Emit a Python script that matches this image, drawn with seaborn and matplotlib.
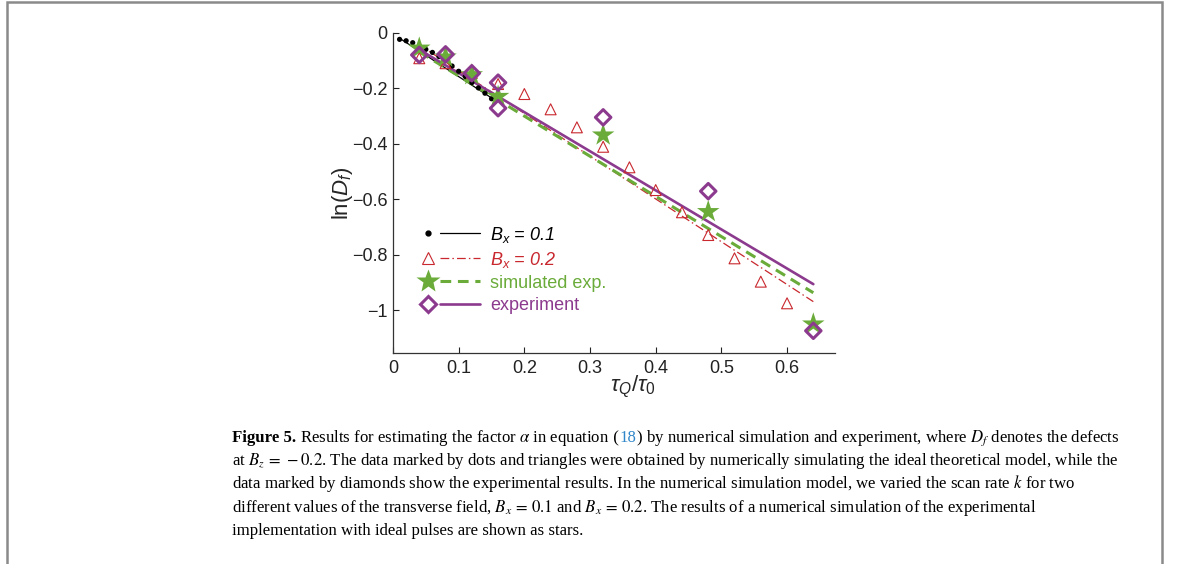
import matplotlib
matplotlib.use("Agg")
import matplotlib.pyplot as plt
import seaborn as sns
import pandas as pd
from matplotlib.lines import Line2D
from matplotlib.legend_handler import HandlerBase
from matplotlib.patches import Rectangle

# ---------------- data ----------------
dots_x = [0.01, 0.02, 0.03, 0.04, 0.05, 0.06, 0.07, 0.08, 0.09, 0.10, 0.11, 0.12, 0.13, 0.14, 0.15]
dots_y = [-0.024, -0.029, -0.036, -0.048, -0.060, -0.071, -0.086, -0.101, -0.120, -0.139,
          -0.158, -0.180, -0.199, -0.218, -0.238]
tri_x = [0.04, 0.08, 0.12, 0.16, 0.20, 0.24, 0.28, 0.32, 0.36, 0.40, 0.44, 0.48, 0.52, 0.56, 0.60]
tri_y = [-0.092, -0.110, -0.145, -0.185, -0.221, -0.276, -0.341, -0.411, -0.485, -0.567,
         -0.647, -0.729, -0.813, -0.897, -0.975]
star_x = [0.04, 0.08, 0.12, 0.16, 0.32, 0.48, 0.64]
star_y = [-0.056, -0.088, -0.152, -0.230, -0.369, -0.645, -1.050]
dia_x = [0.04, 0.08, 0.12, 0.16, 0.16, 0.32, 0.48, 0.64]
dia_y = [-0.080, -0.078, -0.146, -0.180, -0.272, -0.305, -0.571, -1.074]

fit01_x = [0.01, 0.15]
fit01_y = [-0.020, -0.235]
fit02_x = [0.04, 0.64]
fit02_y = [-0.044, -0.969]
fitsim_x = [0.04, 0.64]
fitsim_y = [-0.069, -0.937]
fitexp_x = [0.04, 0.64]
fitexp_y = [-0.061, -0.906]

xticks = [0, 0.1, 0.2, 0.3, 0.4, 0.5, 0.6]
xticklabels = ["0", "0.1", "0.2", "0.3", "0.4", "0.5", "0.6"]
yticks = [-1, -0.8, -0.6, -0.4, -0.2, 0]
yticklabels = ["\u22121", "\u22120.8", "\u22120.6", "\u22120.4", "\u22120.2", "0"]

legend_labels = ["$B_x$ = 0.1", "$B_x$ = 0.2", "simulated exp.", "experiment"]

caption_lines = [
    [("Figure 5.", "bold", "k"),
     (" Results for estimating the factor $\\alpha$ in equation", "normal", "k"),
     (" (", "normal", "k"),
     ("18", "normal", "#2f86c9"),
     (")", "normal", "k"),
     (" by numerical simulation and experiment, where $D_f$ denotes the defects", "normal", "k")],
    [("at $B_z\\,=\\,-0.2$. The data marked by dots and triangles were obtained by numerically simulating the ideal theoretical model, while the", "normal", "k")],
    [("data marked by diamonds show the experimental results. In the numerical simulation model, we varied the scan rate $k$ for two", "normal", "k")],
    [("different values of the transverse field, $B_x\\,=\\,0.1$ and $B_x\\,=\\,0.2$. The results of a numerical simulation of the experimental", "normal", "k")],
    [("implementation with ideal pulses are shown as stars.", "normal", "k")],
]

# ---------------- style ----------------
sns.set_style("ticks")
plt.rcParams['font.family'] = ['Liberation Sans', 'DejaVu Sans']
plt.rcParams['mathtext.fontset'] = 'custom'
plt.rcParams['mathtext.rm'] = 'Liberation Sans'
plt.rcParams['mathtext.it'] = 'Liberation Sans:italic'
plt.rcParams['mathtext.bf'] = 'Liberation Sans:bold'

RED = "#c8282e"
GREEN = "#6aab3a"
PURPLE = "#8c3a8e"

fig = plt.figure(figsize=(11.79, 5.64), dpi=100)
ax = fig.add_axes([393 / 1179, 1 - 352.7 / 564, (835 - 393) / 1179, (352.7 - 32.7) / 564])

# lines
sns.lineplot(x=fit01_x, y=fit01_y, ax=ax, color="k", lw=0.9, zorder=2)
sns.lineplot(x=fit02_x, y=fit02_y, ax=ax, color=RED, lw=0.9, zorder=2, dashes=False)
ax.lines[-1].set_linestyle((0, (7, 2.5, 1.2, 2.5)))
sns.lineplot(x=fitsim_x, y=fitsim_y, ax=ax, color=GREEN, lw=2.2, zorder=3)
ax.lines[-1].set_linestyle((0, (3.5, 2.2)))
sns.lineplot(x=fitexp_x, y=fitexp_y, ax=ax, color=PURPLE, lw=1.9, zorder=4)

# markers
sns.scatterplot(x=dots_x, y=dots_y, ax=ax, color="k", s=14, edgecolor="none", zorder=5)
sns.scatterplot(x=tri_x, y=tri_y, ax=ax, marker="^", s=62, facecolor="none",
                edgecolor=RED, linewidth=0.8, zorder=5)
sns.scatterplot(x=star_x, y=star_y, ax=ax, marker="*", s=290, color=GREEN,
                edgecolor="none", zorder=6)
sns.scatterplot(x=dia_x, y=dia_y, ax=ax, marker="D", s=62, facecolor="none",
                edgecolor=PURPLE, linewidth=2.2, zorder=7)

ax.set_xlim(0, 0.673)
ax.set_ylim(-1.153, 0)
ax.set_xticks(xticks)
ax.set_xticklabels(xticklabels)
ax.set_yticks(yticks)
ax.set_yticklabels(yticklabels)
ax.tick_params(direction="in", length=4, width=0.8, labelsize=13, pad=5, colors="#222222")
ax.tick_params(axis="y", pad=4)
for s in ["top", "right"]:
    ax.spines[s].set_visible(False)
for s in ["left", "bottom"]:
    ax.spines[s].set_linewidth(0.9)
    ax.spines[s].set_color("#333333")

ax.set_ylabel("ln($D_f$)", fontsize=16, labelpad=-2)
ax.set_xlabel(r"$\tau_Q/\tau_{\mathit{0}}$", fontsize=16, va="top")
ax.xaxis.set_label_coords(0.543, -0.066)


# legend: marker then line
class MarkerThenLine(HandlerBase):
    def create_artists(self, legend, orig, xdescent, ydescent, width, height, fontsize, trans):
        mk, ln = orig
        y = height / 2 - ydescent
        m = Line2D([0.17 * width - xdescent], [y])
        m.update_from(mk)
        l = Line2D([0.36 * width - xdescent, width - xdescent], [y, y])
        l.update_from(ln)
        m.set_transform(trans)
        l.set_transform(trans)
        return [l, m]


handles = [
    (Line2D([], [], ls="none", marker="o", color="k", ms=3.5),
     Line2D([], [], color="k", lw=0.9)),
    (Line2D([], [], ls="none", marker="^", mfc="none", mec=RED, mew=0.8, ms=8.5),
     Line2D([], [], color=RED, lw=0.9, ls=(0, (7, 2.5, 1.2, 2.5)))),
    (Line2D([], [], ls="none", marker="*", color=GREEN, mec="none", ms=18),
     Line2D([], [], color=GREEN, lw=2.2, ls=(0, (3.5, 2.2)))),
    (Line2D([], [], ls="none", marker="D", mfc="none", mec=PURPLE, mew=2.2, ms=8.5),
     Line2D([], [], color=PURPLE, lw=1.9)),
]
leg = ax.legend(handles, legend_labels, handler_map={tuple: MarkerThenLine()},
                loc="upper left", bbox_to_anchor=(0.054, 0.400), frameon=False,
                fontsize=13, handlelength=3.5, handletextpad=0.55, labelspacing=0.28,
                borderpad=0, borderaxespad=0)
txt_colors = ["k", RED, GREEN, PURPLE]
for t, c in zip(leg.get_texts(), txt_colors):
    t.set_color(c)
leg.get_texts()[0].set_fontstyle("italic")
leg.get_texts()[1].set_fontstyle("italic")

# ---------------- caption ----------------
line_y = [442, 465, 488, 512, 535]
cap_kw = dict(family=["Liberation Serif", "DejaVu Serif"], fontsize=12.1, math_fontfamily="stix")
fig.canvas.draw()
renderer = fig.canvas.get_renderer()
for ly, pieces in zip(line_y, caption_lines):
    x = 232 / 1179
    for txt, wt, col in pieces:
        t = fig.text(x, 1 - ly / 564, txt, fontweight=wt, color=col,
                     ha="left", va="baseline", **cap_kw)
        bb = t.get_window_extent(renderer)
        x = bb.x1 / fig.bbox.width

# frame
fig.add_artist(Rectangle((6.5 / 1179, -0.2), (1162 - 6.5) / 1179, 1.2 - 1.5 / 564,
                         transform=fig.transFigure, fill=False, edgecolor="#8a8a8a",
                         lw=1.8, clip_on=False))

fig.savefig("out.png", dpi=100)
